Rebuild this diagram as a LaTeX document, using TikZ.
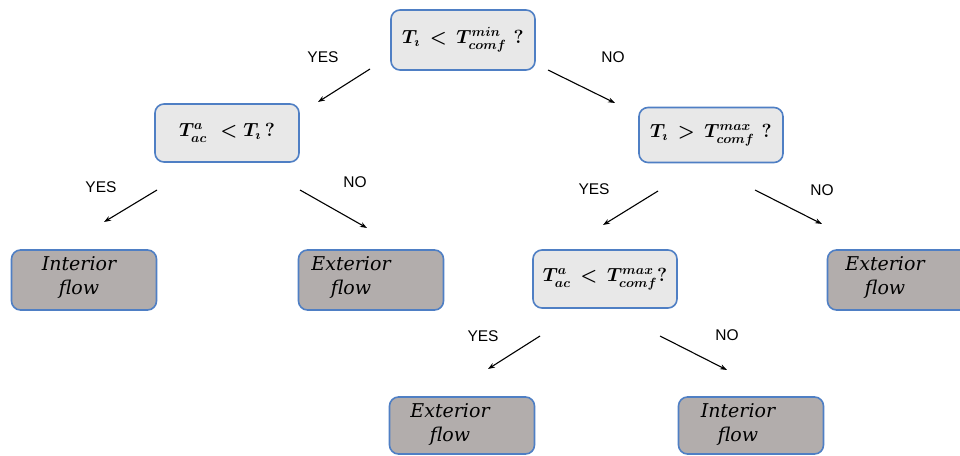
\documentclass[tikz,border=0pt]{standalone}
\usepackage{fix-cm}
\usepackage{fontspec}
\usepackage{bm}
\setsansfont{Liberation Sans}
\newfontfamily\boxfont{DejaVu Serif}
\usetikzlibrary{arrows.meta}
\definecolor{bord}{HTML}{4F7FC4}
\definecolor{qfill}{HTML}{E8E8E8}
\definecolor{ofill}{HTML}{B2ADAC}
\tikzset{
  qbox/.style={draw=bord, fill=qfill, line width=1.6pt, rounded corners=9pt,
    minimum width=144pt, minimum height=58pt, inner sep=0pt,
    font=\fontsize{19}{23}\selectfont\boldmath},
  obox/.style={draw=bord, fill=ofill, line width=1.6pt, rounded corners=9pt,
    minimum width=145pt, minimum height=60pt, inner sep=0pt},
  otext/.style={align=center, inner sep=0pt, font=\boxfont\itshape\fontsize{19}{24}\selectfont},
  yn/.style={font=\sffamily\fontsize{15.5}{18}\selectfont, inner sep=0pt},
  arr/.style={-{Stealth[length=7pt,width=5pt]}, line width=1.1pt, black}
}
\begin{document}
\begin{tikzpicture}[x=1pt,y=-1pt]
\useasboundingbox[fill=white] (0,0) rectangle (960,455);
% decision boxes
\node[qbox, minimum height=60pt] (q1) at (463,40) {$T_\imath\,<\,T^{min}_{comf}\,\,?$};
\node[qbox] (q2) at (227,133) {$T^{a}_{ac}\,\,<T_\imath\,?$};
\node[qbox, minimum height=55pt] (q3) at (711,135) {$T_\imath\,\bm{>}\,T^{max}_{comf}\,\,?$};
\node[qbox] (q4) at (605,279) {$T^{a}_{ac}\,\bm{<}\,T^{max}_{comf}?$};
% outcome boxes
\node[obox] (o1) at (84,280) {};
\node[obox] (o2) at (371,280) {};
\node[obox] (o3) at (900,280) {};
\node[obox, minimum height=57pt] (o4) at (462,425.5) {};
\node[obox, minimum height=57pt] (o5) at (751,425.5) {};
\node[otext] (o1t) at (79,277) {Interior\\flow};
\node[otext] (o2t) at (351,277) {Exterior\\flow};
\node[otext] (o3t) at (885,277) {Exterior\\flow};
\node[otext] (o4t) at (450,424) {Exterior\\flow};
\node[otext] (o5t) at (738,424) {Interior\\flow};
% connectors
\coordinate (a1s) at (370,69); \coordinate (a1e) at (318,102);
\coordinate (a2s) at (548,70); \coordinate (a2e) at (615,103);
\coordinate (a3s) at (157,190); \coordinate (a3e) at (104,222);
\coordinate (a4s) at (300,190); \coordinate (a4e) at (367,228);
\coordinate (a5s) at (658,191); \coordinate (a5e) at (603,225);
\coordinate (a6s) at (755,190); \coordinate (a6e) at (822,224);
\coordinate (a7s) at (540,336); \coordinate (a7e) at (488,369);
\coordinate (a8s) at (660,336); \coordinate (a8e) at (727,370);
\draw[arr] (a1s) -- (a1e);
\draw[arr] (a2s) -- (a2e);
\draw[arr] (a3s) -- (a3e);
\draw[arr] (a4s) -- (a4e);
\draw[arr] (a5s) -- (a5e);
\draw[arr] (a6s) -- (a6e);
\draw[arr] (a7s) -- (a7e);
\draw[arr] (a8s) -- (a8e);
% labels
\node[yn] (l1) at (323,57) {YES};
\node[yn] (l2) at (613,57) {NO};
\node[yn] (l3) at (101,187) {YES};
\node[yn] (l4) at (355,182) {NO};
\node[yn] (l5) at (594,189) {YES};
\node[yn] (l6) at (822,190) {NO};
\node[yn] (l7) at (483,336) {YES};
\node[yn] (l8) at (727,335) {NO};
\end{tikzpicture}
\end{document}
